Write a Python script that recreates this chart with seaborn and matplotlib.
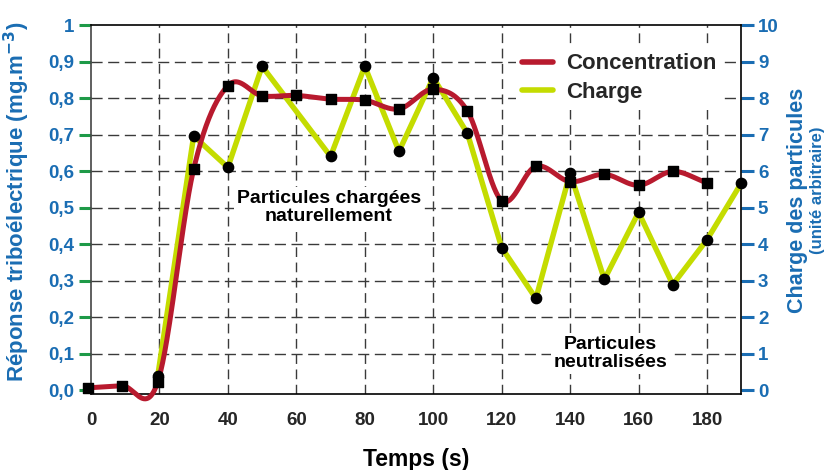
import numpy as np
import matplotlib
matplotlib.use("Agg")
import matplotlib.pyplot as plt
import seaborn as sns
from matplotlib.lines import Line2D

# Time axis (s) and measured values
conc_time = [-1, 9, 19.5, 30, 40, 50, 60, 70, 80, 90, 100, 110, 120, 130, 140, 150, 160, 170, 180]
conc_values = [0.006, 0.012, 0.022, 0.605, 0.834, 0.806, 0.807, 0.797, 0.794, 0.770,
               0.824, 0.764, 0.519, 0.613, 0.571, 0.591, 0.561, 0.599, 0.567]

charge_time = [19.5, 30, 40, 50, 70, 80, 90, 100, 110, 120, 130, 140, 150, 160, 170, 180, 190]
charge_values = [0.38, 6.96, 6.1, 8.87, 6.4, 8.87, 6.54, 8.56, 7.03, 3.9, 2.51, 5.95,
                 3.03, 4.87, 2.89, 4.12, 5.67]

x_ticks = [0, 20, 40, 60, 80, 100, 120, 140, 160, 180]
left_ticks = [0.0, 0.1, 0.2, 0.3, 0.4, 0.5, 0.6, 0.7, 0.8, 0.9, 1.0]
left_tick_labels = ["0,0", "0,1", "0,2", "0,3", "0,4", "0,5", "0,6", "0,7", "0,8", "0,9", "1"]
right_ticks = [0, 1, 2, 3, 4, 5, 6, 7, 8, 9, 10]

CHARGE_PER_UNIT = 10.0  # right axis units per left axis unit

RED = "#b81a2e"
LIME = "#c4dc00"
BLUE = "#1a6db3"
GREEN_TICK = "#1e9a48"

sns.set_theme(style="white")
plt.rcParams["font.family"] = ["Liberation Sans", "DejaVu Sans"]
NARROW = ["Liberation Sans Narrow", "Liberation Sans", "DejaVu Sans"]


def smooth_curve(x, y, xs):
    """Catmull-Rom style cubic Hermite curve through (x, y), evaluated at xs."""
    x = np.asarray(x, float)
    y = np.asarray(y, float)
    n = len(x)
    m = np.empty(n)
    m[1:-1] = (y[2:] - y[:-2]) / (x[2:] - x[:-2])
    m[0] = (y[1] - y[0]) / (x[1] - x[0])
    m[-1] = (y[-1] - y[-2]) / (x[-1] - x[-2])
    idx = np.clip(np.searchsorted(x, xs) - 1, 0, n - 2)
    h = x[idx + 1] - x[idx]
    t = (xs - x[idx]) / h
    h00 = 2 * t ** 3 - 3 * t ** 2 + 1
    h10 = t ** 3 - 2 * t ** 2 + t
    h01 = -2 * t ** 3 + 3 * t ** 2
    h11 = t ** 3 - t ** 2
    return h00 * y[idx] + h10 * h * m[idx] + h01 * y[idx + 1] + h11 * h * m[idx + 1]


fig, ax = plt.subplots(figsize=(8.24, 4.70), dpi=100)
fig.subplots_adjust(left=0.1104, right=0.8996, top=0.9468, bottom=0.1623)

ax.set_xlim(0, 190)
ax.set_ylim(-0.01, 1.0)

# dashed grid
for xv in x_ticks[1:]:
    ax.axvline(xv, color="#3a3a3a", lw=1.0, dashes=(7, 4), zorder=1)
for yv in left_ticks[1:-1]:
    ax.axhline(yv, color="#3a3a3a", lw=1.0, dashes=(8, 4), zorder=1)

# charge (right axis) line
charge_left = np.array(charge_values) / CHARGE_PER_UNIT
sns.lineplot(x=charge_time, y=charge_left, ax=ax, color=LIME, lw=3.9,
             sort=False, zorder=3, clip_on=False)

# concentration smooth curve
xs = np.linspace(conc_time[0], conc_time[-1], 900)
sns.lineplot(x=xs, y=smooth_curve(conc_time, conc_values, xs), ax=ax, color=RED,
             lw=3.6, sort=False, zorder=4, clip_on=False)

ax.scatter(charge_time, charge_left, s=55, marker="o", color="black", zorder=5, clip_on=False)
ax.scatter(conc_time, conc_values, s=46, marker="s", color="black", zorder=6, clip_on=False)

# axes styling
for side in ["top", "right", "bottom", "left"]:
    ax.spines[side].set_color("black")
    ax.spines[side].set_linewidth(1.2)
    ax.spines[side].set_zorder(2)
ax.spines["left"].set_color("#444444")

ax.set_xticks(x_ticks)
ax.set_xticklabels([str(v) for v in x_ticks])
ax.tick_params(axis="x", direction="inout", length=15, width=2.2, color="black",
               pad=6, labelsize=13.5)
for lab in ax.get_xticklabels():
    lab.set_fontweight("bold")
    lab.set_family(NARROW)

ax.set_yticks(left_ticks)
ax.set_yticklabels(left_tick_labels)
ax.tick_params(axis="y", direction="out", length=9, width=2.2, color=GREEN_TICK,
               pad=3, labelsize=13.5, labelcolor=BLUE, left=True)
for lab in ax.get_yticklabels():
    lab.set_fontweight("bold")
    lab.set_family(NARROW)

sec = ax.secondary_yaxis("right", functions=(lambda v: v * CHARGE_PER_UNIT,
                                             lambda v: v / CHARGE_PER_UNIT))
sec.set_yticks(right_ticks)
sec.set_yticklabels([str(v) for v in right_ticks])
sec.tick_params(axis="y", direction="out", length=9, width=2.2, color=BLUE,
                pad=3, labelsize=13.5, labelcolor=BLUE)
sec.spines["right"].set_visible(False)
for lab in sec.get_yticklabels():
    lab.set_fontweight("bold")
    lab.set_family(NARROW)

ax.set_xlabel("Temps (s)", fontsize=16.5, fontweight="bold", color="black", labelpad=13)

ax.text(-0.114, 0.522, r"Réponse triboélectrique (mg.m$^{\mathbf{-3}}$)", transform=ax.transAxes,
        rotation=90, ha="center", va="center", fontsize=16, fontweight="bold", color=BLUE)
ax.text(1.087, 0.525, "Charge des particules", transform=ax.transAxes,
        rotation=90, ha="center", va="center", fontsize=15.5, fontweight="bold", color=BLUE)
ax.text(1.117, 0.552, "(unité arbitraire)", transform=ax.transAxes,
        rotation=90, ha="center", va="center", fontsize=12, fontweight="bold", color=BLUE)

box = dict(facecolor="white", edgecolor="none", pad=2)
ax.text(69.5, 0.50, "Particules chargées\nnaturellement", ha="center", va="center",
        fontsize=14, fontweight="bold", color="black", linespacing=1.1, bbox=box, zorder=7)
ax.text(151.8, 0.10, "Particules\nneutralisées", ha="center", va="center",
        fontsize=14, fontweight="bold", color="black", linespacing=1.1, bbox=box, zorder=7)

handles = [Line2D([], [], color=RED, lw=4), Line2D([], [], color=LIME, lw=4)]
leg = ax.legend(handles, ["Concentration", "Charge"], loc="upper left",
                bbox_to_anchor=(0.646, 0.953), frameon=True, fancybox=False,
                handlelength=1.4, handletextpad=0.6, labelspacing=0.35,
                borderpad=0.3, borderaxespad=0.2,
                prop={"weight": "bold", "size": 16})
leg.get_frame().set_facecolor("white")
leg.get_frame().set_edgecolor("none")
leg.get_frame().set_alpha(1.0)
leg.set_zorder(8)

fig.savefig("out.png", dpi=100)
